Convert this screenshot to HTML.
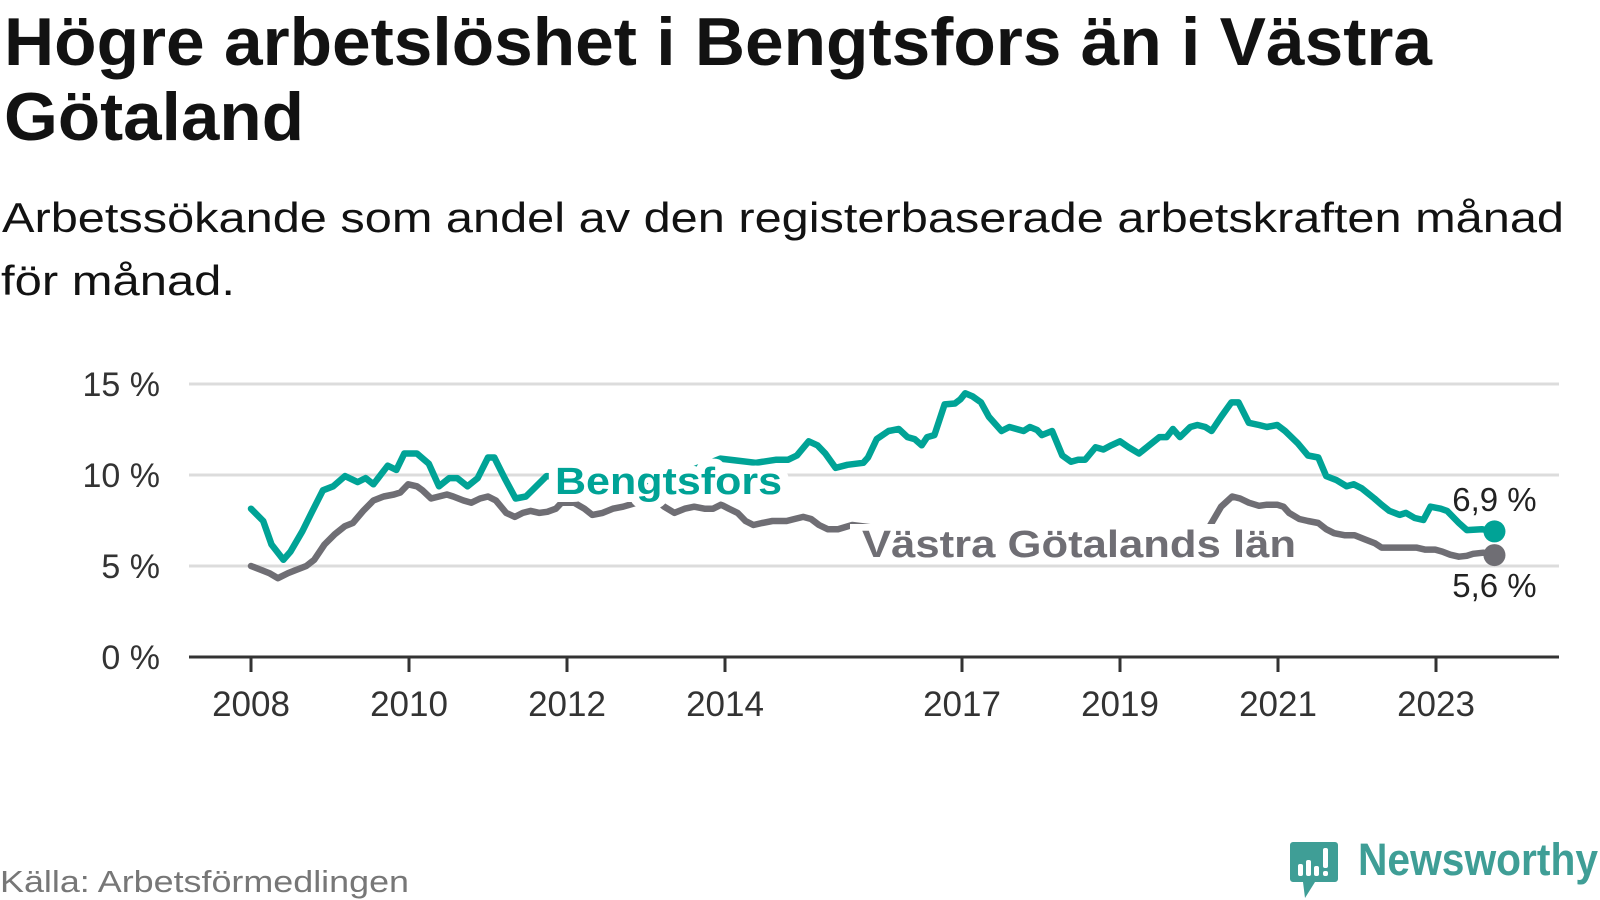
<!DOCTYPE html>
<html><head><meta charset="utf-8"><style>
html,body{margin:0;padding:0;background:#fff;}
svg{display:block;font-family:"Liberation Sans",sans-serif;}
</style></head><body>
<svg id="chart" width="1600" height="900" viewBox="0 0 1600 900">
<text x="4" y="65" font-size="68" font-weight="bold" fill="#121212" textLength="1428" lengthAdjust="spacingAndGlyphs">Högre arbetslöshet i Bengtsfors än i Västra</text>
<text x="4" y="140" font-size="68" font-weight="bold" fill="#121212" textLength="300" lengthAdjust="spacingAndGlyphs">Götaland</text>
<text x="2" y="232" font-size="42" fill="#121212" textLength="1562" lengthAdjust="spacingAndGlyphs">Arbetssökande som andel av den registerbaserade arbetskraften månad</text>
<text x="1" y="295" font-size="42" fill="#121212" textLength="234" lengthAdjust="spacingAndGlyphs">för månad.</text>
<g id="grid"></g>
<g id="yaxis"></g>
<g id="xaxis"></g>
<g id="series"></g>
<g id="labels"></g>
<text x="0" y="892" font-size="31" fill="#777" textLength="409" lengthAdjust="spacingAndGlyphs">Källa: Arbetsförmedlingen</text>
<g>
<path d="M1293 842 h42 a3 3 0 0 1 3 3 v34 a3 3 0 0 1 -3 3 h-20 l-10 16 l-2 -16 h-10 a3 3 0 0 1 -3 -3 v-34 a3 3 0 0 1 3 -3z" fill="#3f9e96"/>
<rect x="1298" y="864" width="5" height="12" rx="2" fill="#fff"/>
<rect x="1306" y="860" width="5" height="16" rx="2" fill="#fff"/>
<rect x="1314" y="866" width="5" height="10" rx="2" fill="#fff"/>
<rect x="1323" y="848" width="5" height="20" rx="2" fill="#fff"/>
<rect x="1323" y="871" width="5" height="5" rx="2" fill="#fff"/>
<text x="1358" y="875" font-size="45" font-weight="bold" fill="#3f9e96" textLength="240" lengthAdjust="spacingAndGlyphs">Newsworthy</text>
</g>
</svg>
<script>
const yTicks = [0, 5, 10, 15];
const yTickLabels = ["0 %", "5 %", "10 %", "15 %"];
const xTicks = [2008, 2010, 2012, 2014, 2017, 2019, 2021, 2023];
const xTickLabels = ["2008", "2010", "2012", "2014", "2017", "2019", "2021", "2023"];
const bDates = [2008.00,2008.155,2008.26,2008.41,2008.50,2008.65,2008.76,2008.91,2009.04,2009.19,2009.35,2009.45,2009.55,2009.73,2009.84,2009.94,2010.10,2010.25,2010.38,2010.51,2010.61,2010.74,2010.87,2011.00,2011.08,2011.21,2011.35,2011.48,2011.61,2011.74,2011.9,2012.2,2012.45,2012.8,2013.2,2013.6,2013.94,2014.13,2014.39,2014.65,2014.80,2014.91,2015.06,2015.17,2015.27,2015.40,2015.55,2015.75,2015.81,2015.92,2016.07,2016.20,2016.31,2016.40,2016.49,2016.56,2016.65,2016.78,2016.91,2016.98,2017.04,2017.13,2017.24,2017.34,2017.50,2017.60,2017.69,2017.78,2017.86,2017.95,2018.01,2018.14,2018.27,2018.38,2018.47,2018.56,2018.69,2018.79,2018.89,2019.00,2019.11,2019.24,2019.37,2019.50,2019.59,2019.67,2019.76,2019.89,2019.98,2020.08,2020.16,2020.28,2020.41,2020.50,2020.63,2020.76,2020.86,2020.99,2021.09,2021.25,2021.38,2021.51,2021.61,2021.74,2021.87,2021.96,2022.06,2022.22,2022.31,2022.41,2022.54,2022.62,2022.73,2022.84,2022.93,2023.06,2023.14,2023.29,2023.39,2023.58,2023.74];
const bValues = [8.15,7.47,6.18,5.34,5.79,6.91,7.87,9.16,9.38,9.94,9.61,9.83,9.49,10.51,10.28,11.18,11.18,10.62,9.38,9.83,9.83,9.38,9.83,10.96,10.96,9.83,8.71,8.82,9.38,9.94,9.9,9.5,8.8,9.4,9.8,10.3,10.9,10.8,10.67,10.84,10.84,11.07,11.85,11.63,11.18,10.39,10.56,10.67,10.96,11.97,12.42,12.53,12.08,11.97,11.63,12.08,12.19,13.88,13.93,14.16,14.49,14.33,13.99,13.2,12.42,12.64,12.53,12.42,12.64,12.47,12.19,12.42,11.07,10.73,10.84,10.84,11.52,11.4,11.63,11.85,11.52,11.18,11.63,12.08,12.08,12.53,12.08,12.64,12.75,12.64,12.42,13.2,13.99,13.99,12.87,12.75,12.64,12.75,12.42,11.74,11.07,10.96,9.94,9.72,9.38,9.49,9.27,8.71,8.37,8.03,7.81,7.92,7.64,7.53,8.26,8.15,8.03,7.36,6.97,7.02,6.9];
const gDates = [2008.00,2008.13,2008.23,2008.34,2008.47,2008.57,2008.70,2008.80,2008.93,2009.06,2009.19,2009.29,2009.42,2009.55,2009.68,2009.81,2009.89,2009.99,2010.10,2010.17,2010.28,2010.38,2010.48,2010.56,2010.69,2010.79,2010.90,2011.00,2011.10,2011.23,2011.34,2011.44,2011.54,2011.65,2011.75,2011.86,2011.93,2012.09,2012.22,2012.32,2012.45,2012.58,2012.71,2012.84,2012.97,2013.10,2013.23,2013.36,2013.49,2013.61,2013.74,2013.85,2013.95,2014.05,2014.16,2014.26,2014.36,2014.47,2014.60,2014.78,2014.88,2014.99,2015.09,2015.19,2015.30,2015.43,2015.61,2015.9,2016.3,2016.7,2017.1,2017.5,2018.0,2018.5,2019.0,2019.5,2020.0,2020.15,2020.28,2020.42,2020.52,2020.63,2020.76,2020.86,2020.99,2021.07,2021.14,2021.27,2021.38,2021.51,2021.61,2021.71,2021.84,2021.97,2022.10,2022.23,2022.31,2022.44,2022.67,2022.75,2022.86,2022.99,2023.08,2023.18,2023.29,2023.39,2023.47,2023.60,2023.74];
const gValues = [5.0,4.78,4.61,4.33,4.61,4.78,5.0,5.34,6.18,6.74,7.19,7.36,8.03,8.6,8.82,8.93,9.04,9.49,9.38,9.16,8.71,8.82,8.93,8.82,8.6,8.48,8.71,8.82,8.6,7.92,7.7,7.92,8.03,7.92,7.98,8.15,8.48,8.48,8.15,7.81,7.92,8.15,8.26,8.43,8.6,8.71,8.26,7.92,8.15,8.26,8.15,8.15,8.37,8.15,7.92,7.47,7.25,7.36,7.47,7.47,7.58,7.7,7.58,7.25,7.02,7.02,7.25,7.1,6.9,6.5,7.0,6.6,6.2,6.0,6.3,6.0,6.2,7.3,8.26,8.82,8.71,8.48,8.31,8.37,8.37,8.26,7.92,7.58,7.47,7.36,7.02,6.8,6.69,6.69,6.46,6.24,6.01,6.01,6.01,6.01,5.9,5.9,5.79,5.62,5.51,5.56,5.67,5.73,5.6];

const NS = "http://www.w3.org/2000/svg";
const X0 = 189, X1 = 1559;
function xs(year){ return 251 + 79 * (year - 2008); }
function ys(v){ return 657 - 18.2 * v; }
function mk(tag, attrs, parent){ const e = document.createElementNS(NS, tag); for (const k in attrs) e.setAttribute(k, attrs[k]); parent.appendChild(e); return e; }

const grid = document.getElementById('grid');
const yaxis = document.getElementById('yaxis');
yTicks.forEach((t, i) => {
  if (t > 0) {
    const g = mk('line', {x1: X0, x2: X1, y1: ys(t), y2: ys(t), stroke: '#dcdcdc', 'stroke-width': 3}, grid);
    
    
  }
  const tx = mk('text', {x: 160, y: ys(t) + 12, 'font-size': 34, fill: '#333', 'text-anchor': 'end'}, yaxis);
  tx.textContent = yTickLabels[i];
  
  
});
const xaxis = document.getElementById('xaxis');
const ax = mk('line', {x1: X0, x2: X1, y1: 657, y2: 657, stroke: '#333', 'stroke-width': 3}, xaxis);


xTicks.forEach((t, i) => {
  const tk = mk('line', {x1: xs(t), x2: xs(t), y1: 657, y2: 672, stroke: '#333', 'stroke-width': 3}, xaxis);
  
  
  const tx = mk('text', {x: xs(t), y: 716, 'font-size': 35, fill: '#333', 'text-anchor': 'middle'}, xaxis);
  tx.textContent = xTickLabels[i];
  
  
});

const series = document.getElementById('series');
function drawLine(dates, vals, color, name){
  const d = dates.map((t, i) => (i ? 'L' : 'M') + xs(t).toFixed(1) + ' ' + ys(vals[i]).toFixed(1)).join(' ');
  const p = mk('path', {d: d, fill: 'none', stroke: color, 'stroke-width': 6.5, 'stroke-linejoin': 'round', 'stroke-linecap': 'round'}, series);
  
  
  const n = dates.length - 1;
  const c = mk('circle', {cx: xs(dates[n]), cy: ys(vals[n]), r: 11, fill: color}, series);
  
  
}
drawLine(gDates, gValues, '#6f6e74', 'vastra-gotaland');
drawLine(bDates, bValues, '#00a396', 'bengtsfors');

const labels = document.getElementById('labels');
function lbl(x, y, txt, color, bold, size, anchor, name, len, halo){
  const a = {x: x, y: y, 'font-size': size, fill: color, stroke: '#fff', 'stroke-width': halo, 'paint-order': 'stroke', 'stroke-linejoin': 'round', 'text-anchor': anchor};
  if (bold) a['font-weight'] = 'bold';
  if (len) { a.textLength = len; a.lengthAdjust = 'spacingAndGlyphs'; }
  const t = mk('text', a, labels);
  t.textContent = txt;
  
  
}
const bg = mk('rect', {x: 850, y: 524, width: 450, height: 38, fill: '#fff'}, labels);


lbl(555, 494, 'Bengtsfors', '#00a396', true, 38, 'start', 'bengtsfors-label', 227, 16);
lbl(862, 557, 'Västra Götalands län', '#6f6e74', true, 38, 'start', 'vastra-gotaland-label', 434, 10);
lbl(xs(bDates[bDates.length-1]), 511, bValues[bValues.length-1].toFixed(1).replace('.', ',') + ' %', '#222', false, 33, 'middle', 'bengtsfors-end-value', 0, 8);
lbl(xs(gDates[gDates.length-1]), 597, gValues[gValues.length-1].toFixed(1).replace('.', ',') + ' %', '#222', false, 33, 'middle', 'vastra-gotaland-end-value', 0, 8);
</script>
</body></html>
